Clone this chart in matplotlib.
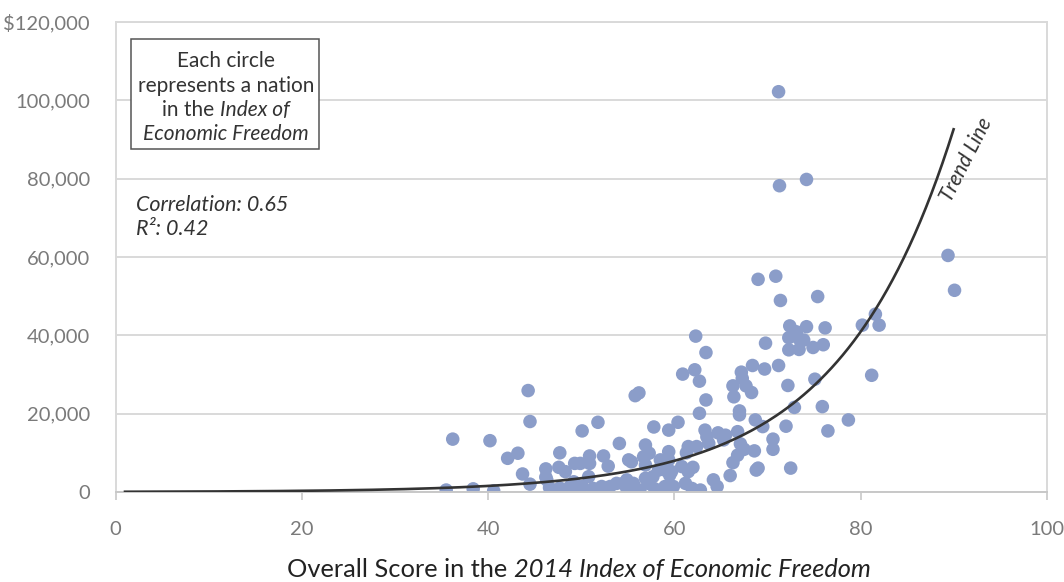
import matplotlib
matplotlib.use("Agg")
import matplotlib.pyplot as plt
import numpy as np
from matplotlib.transforms import IdentityTransform

# ---------------- data ----------------
score = [35.5, 36.2, 38.4, 40.2, 40.6, 42.1, 43.2, 43.7, 44.3, 44.5, 44.5,
         46.2, 46.2, 46.3, 46.6, 47.7, 47.6, 48.3, 49.3, 49.9, 50.9, 50.9,
         52.4, 52.9, 54.1, 49.2, 50.8, 48.8, 50.1, 51.3, 52.2, 53.1, 53.8,
         54.5, 54.9, 49.5, 51.7, 55.1, 50.1, 51.8, 55.8, 56.2, 55.4, 56.7,
         56.9, 56.9, 58.5, 59.4, 61.5, 62.4, 63.7, 58.3, 59.0, 59.7, 60.8,
         61.5, 59.5, 54.9, 55.6, 55.2, 57.2, 59.0, 59.9, 61.2, 61.9, 64.2,
         56.9, 57.7, 57.3, 57.8, 59.4, 60.4, 61.3, 63.5, 63.3, 64.7, 65.5,
         65.3, 66.8, 67.1, 67.5, 68.7, 69.5, 66.8, 66.3, 66.0, 64.6, 68.6,
         69.0, 68.8, 70.6, 70.6, 72.5, 72.0, 72.9, 72.2, 71.2, 69.7, 68.4,
         67.2, 67.3, 67.7, 68.3, 66.3, 66.4, 67.0, 67.0, 69.8, 72.4, 72.3,
         72.3, 73.1, 62.3, 63.4, 60.9, 62.2, 62.7, 63.4, 62.7, 62.0, 59.4,
         69.0, 70.9, 71.4, 75.4, 74.2, 76.2, 73.4, 73.9, 73.4, 74.9, 76.0,
         71.2, 71.3, 74.2, 89.4, 90.1, 81.6, 80.2, 82.0, 75.1, 81.2, 75.9,
         78.7, 76.5, 47.7, 52.6, 56.3, 57.9, 62.8]
gdp = [500, 13500, 800, 13100, 300, 8600, 9900, 4600, 25900, 18000, 2000,
       5900, 3800, 3100, 1100, 10000, 6300, 5200, 7300, 7300, 9200, 7300,
       9200, 6600, 12400, 2600, 3900, 1400, 1400, 900, 1400, 1400, 2200,
       2200, 900, 500, 500, 8200, 15600, 17800, 24600, 25300, 7700, 9000,
       12000, 6900, 8200, 10300, 11600, 11600, 12400, 5600, 5600, 5200, 6500,
       5200, 4300, 3100, 2200, 900, 2200, 1400, 1400, 2200, 900, 3100,
       3500, 3900, 9900, 16600, 15800, 17800, 10000, 14100, 15800, 15100, 14500,
       13300, 15400, 12300, 10900, 18400, 16700, 9400, 7500, 4200, 1400, 10500,
       6100, 5600, 13500, 10900, 6100, 16800, 21600, 27200, 32300, 31400, 32300,
       30600, 29000, 27100, 25400, 27100, 24300, 20700, 19700, 38000, 42400, 39400,
       36300, 40900, 39800, 35600, 30100, 31200, 28300, 23500, 20100, 6300, 8200,
       54300, 55100, 48900, 49900, 42200, 41900, 39100, 38800, 36400, 36900, 37600,
       102200, 78200, 79800, 60400, 51500, 45400, 42600, 42600, 28800, 29800, 21800,
       18400, 15600, 1000, 500, 500, 800, 500]

# exponential trend line y = A * exp(B * x), as drawn in the reference
trend_a = 58.8
trend_b = 0.0818
trend_range = (1.0, 90.0)

x_ticks = [0, 20, 40, 60, 80, 100]
y_ticks = [0, 20000, 40000, 60000, 80000, 100000, 120000]
y_tick_labels = ["0", "20,000", "40,000", "60,000", "80,000", "100,000", "$120,000"]

# ---------------- figure ----------------
W, H = 1064, 582
FONT = "Lato"
plt.rcParams["font.family"] = [FONT, "DejaVu Sans"]

fig = plt.figure(figsize=(W / 100, H / 100), dpi=100)
ax = fig.add_axes([115.7 / W, 1 - 492 / H, (1046.7 - 115.7) / W, (492 - 22) / H])

grid_c = "#d9d9d9"
ax.set_xlim(0, 100)
ax.set_ylim(0, 120000)
ax.set_yticks(y_ticks)
ax.set_yticklabels(y_tick_labels)
ax.set_xticks(x_ticks)
ax.yaxis.grid(True, color=grid_c, linewidth=1.4)
ax.set_axisbelow(True)
for side in ["left", "right", "top"]:
    ax.spines[side].set_color(grid_c)
    ax.spines[side].set_linewidth(1.4)
ax.spines["bottom"].set_color("#c8c8c8")
ax.spines["bottom"].set_linewidth(1.4)
ax.tick_params(axis="y", length=0, pad=18.5, labelsize=14.5, labelcolor="#7a7a7a")
ax.tick_params(axis="x", length=6, width=1.2, color="#c8c8c8", pad=15,
               labelsize=14.5, labelcolor="#7a7a7a")

ax.scatter(score, gdp, s=95, color="#8b9dc9", edgecolors="none", zorder=2)

tx = np.linspace(trend_range[0], trend_range[1], 300)
ax.plot(tx, trend_a * np.exp(trend_b * tx), color="#333333", linewidth=1.9, zorder=3)

# Trend line label
fig.text(966 / W, 1 - 160 / H, "Trend Line", rotation=63, fontsize=15,
         fontstyle="italic", color="#333333", ha="center", va="center")

# ---------------- mixed-style text helpers ----------------
renderer = fig.canvas.get_renderer()


def seg_width(s, size, style):
    t = fig.text(0, 0, s + "|", fontsize=size, fontstyle=style, family=FONT)
    w1 = t.get_window_extent(renderer).width
    t.remove()
    t = fig.text(0, 0, "|", fontsize=size, fontstyle=style, family=FONT)
    w2 = t.get_window_extent(renderer).width
    t.remove()
    return w1 - w2


def seg_line(x, baseline_px, segs, size, color, ha="center"):
    widths = [seg_width(s, size, st) for s, st in segs]
    total = sum(widths)
    x0 = x - total / 2 if ha == "center" else x
    for (s, st), w in zip(segs, widths):
        fig.text(x0, H - baseline_px, s, fontsize=size, fontstyle=st, family=FONT,
                 color=color, transform=IdentityTransform(), va="baseline",
                 ha="left", zorder=10)
        x0 += w


# info box
box = plt.Rectangle((131 / W, 1 - 149 / H), (319 - 131) / W, (149 - 39) / H,
                    transform=fig.transFigure, facecolor="white",
                    edgecolor="#555555", linewidth=1.1, zorder=1)
fig.patches.append(box)
box_x = 226
size_box = 15
seg_line(box_x, 67, [("Each circle", "normal")], size_box, "#333333")
seg_line(box_x, 91.5, [("represents a nation", "normal")], size_box, "#333333")
seg_line(box_x, 116, [("in the ", "normal"), ("Index of", "italic")], size_box, "#333333")
seg_line(box_x, 140.5, [("Economic Freedom", "italic")], size_box, "#333333")

# correlation text
seg_line(136, 211, [("Correlation: 0.65", "italic")], 15.5, "#333333", ha="left")
seg_line(136, 235, [("R\u00b2: 0.42", "italic")], 15.5, "#333333", ha="left")

# x axis title
seg_line(579, 577, [("Overall Score in the ", "normal"),
                    ("2014 Index of Economic Freedom", "italic")], 18.3, "#222222")

fig.savefig("out.png", dpi=100)
